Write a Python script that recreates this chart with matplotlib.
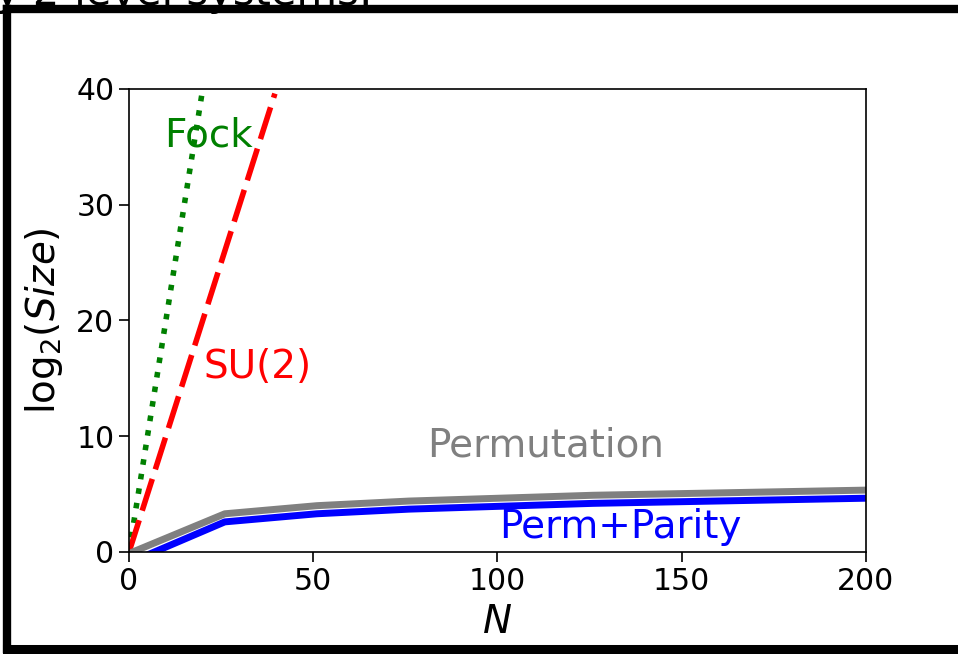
import matplotlib
matplotlib.use("Agg")
import matplotlib.pyplot as plt
from matplotlib.lines import Line2D

# data
n_fock = [0, 19.8]
fock = [0, 39.6]
n_su2 = [0, 39.6]
su2 = [0, 39.6]
n_perm = [1, 26, 51, 76, 101, 126, 151, 176, 201]
perm = [0.0, 3.3, 4.0, 4.4, 4.65, 4.9, 5.05, 5.2, 5.35]
perm_parity = [-0.8, 2.6, 3.3, 3.7, 3.95, 4.2, 4.35, 4.5, 4.65]

xticks = [0, 50, 100, 150, 200]
yticks = [0, 10, 20, 30, 40]

fig = plt.figure(figsize=(9.58, 6.54), dpi=100)
ax = fig.add_axes([0.1347, 0.156, 0.769, 0.708])

ax.plot(n_fock, fock, ':', color='green', lw=4)
ax.plot(n_su2, su2, color='red', lw=4, dashes=(6, 1.8))
ax.plot(n_perm, perm, '-', color='gray', lw=5)
ax.plot(n_perm, perm_parity, '-', color='blue', lw=5)

ax.text(21.5, 36, 'Fock', color='green', fontsize=28, ha='center', va='center')
ax.text(35, 16, 'SU(2)', color='red', fontsize=28, ha='center', va='center')
ax.text(113, 9.2, 'Permutation', color='gray', fontsize=28, ha='center', va='center')
ax.text(133.5, 2.2, 'Perm+Parity', color='blue', fontsize=28, ha='center', va='center')

ax.set_xlim(0, 200)
ax.set_ylim(0, 40)
ax.set_xticks(xticks)
ax.set_yticks(yticks)
ax.tick_params(labelsize=21.5, length=7, width=1.2)
ax.set_xlabel('$N$', fontsize=28, labelpad=5)
ax.set_ylabel(r'$\mathrm{log}_2(Size)$', fontsize=28, labelpad=8)
for s in ax.spines.values():
    s.set_linewidth(1.2)

# text of the page behind, mostly cut off
fig.text(-0.005, 1 - 5 / 654, 'y 2-level systems:', fontsize=30, va='baseline', ha='left')

# thick black frame (cropped, no right side)
W, H = 958, 654
fig.add_artist(Line2D([7 / W, 1.0], [1 - 9 / H, 1 - 9 / H], color='black', lw=6,
                      transform=fig.transFigure))
fig.add_artist(Line2D([7 / W, 1.0], [1 - 649 / H, 1 - 649 / H], color='black', lw=6.5,
                      transform=fig.transFigure))
fig.add_artist(Line2D([7 / W, 7 / W], [1 - 649 / H, 1 - 9 / H], color='black', lw=6,
                      transform=fig.transFigure, solid_capstyle='projecting'))

fig.savefig('out.png', dpi=100)
